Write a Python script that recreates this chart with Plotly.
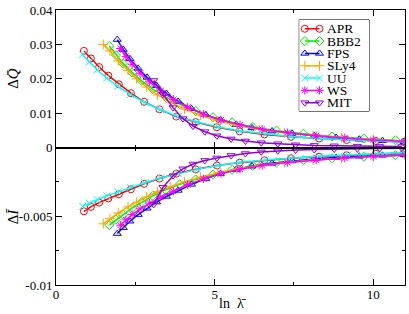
import plotly.graph_objects as go

# ---------------- data ----------------
names = ["APR", "BBB2", "FPS", "SLy4", "UU", "WS", "MIT"]
colors = ["#ff0000", "#00ee00", "#0000ff", "#ffa500", "#00ffff", "#ff00ff", "#9400d3"]
symbols = ["circle-open", "diamond-open", "triangle-up-open", "cross-thin-open",
           "x-thin-open", "asterisk-open", "triangle-down-open"]

apr_x = [0.88, 1.10, 1.36, 1.65, 1.98, 2.36, 2.78, 3.26, 3.79, 4.40, 5.07, 5.79, 6.57, 7.41, 8.29, 9.16, 10.08, 10.97]
apr_q = [0.0281, 0.0259, 0.0234, 0.0209, 0.0184, 0.0158, 0.0133, 0.0111, 0.0090, 0.0074, 0.0059, 0.0047, 0.0038, 0.0031, 0.0026, 0.0022, 0.0019, 0.0016]
apr_i = [-0.00464, -0.00432, -0.00401, -0.00370, -0.00340, -0.00304, -0.00264, -0.00226, -0.00190, -0.00159, -0.00131, -0.00110, -0.00093, -0.00078, -0.00067, -0.00057, -0.00046, -0.00038]

bbb2_x = [1.68, 1.89, 2.12, 2.40, 2.70, 3.05, 3.45, 3.90, 4.40, 4.95, 5.55, 6.20, 6.95, 7.80, 8.70, 9.70, 10.70]
bbb2_q = [0.0295, 0.0269, 0.0244, 0.0218, 0.0194, 0.0170, 0.0147, 0.0126, 0.0106, 0.0088, 0.0073, 0.0060, 0.0049, 0.0040, 0.0032, 0.0026, 0.0021]
bbb2_i = [-0.00564, -0.00525, -0.00488, -0.00440, -0.00398, -0.00352, -0.00308, -0.00268, -0.00232, -0.00196, -0.00162, -0.00133, -0.00110, -0.00092, -0.00078, -0.00066, -0.00056]

fps_x = [1.93, 2.12, 2.33, 2.59, 2.87, 3.17, 3.48, 3.85, 4.27, 4.72, 5.18, 5.68, 6.18, 6.81, 7.44, 8.14, 8.83, 9.56, 10.29, 10.97]
fps_q = [0.0314, 0.0285, 0.0258, 0.0230, 0.0204, 0.0180, 0.0157, 0.0134, 0.0113, 0.0095, 0.0080, 0.0067, 0.0057, 0.0048, 0.0041, 0.0034, 0.0029, 0.0024, 0.0020, 0.0017]
fps_i = [-0.00626, -0.00583, -0.00536, -0.00488, -0.00442, -0.00397, -0.00356, -0.00312, -0.00268, -0.00226, -0.00190, -0.00160, -0.00136, -0.00115, -0.00098, -0.00084, -0.00073, -0.00064, -0.00057, -0.00052]

sly4_x = [1.49, 1.70, 1.96, 2.27, 2.54, 2.85, 3.20, 3.60, 4.05, 4.55, 5.10, 5.70, 6.40, 7.20, 8.10, 9.00, 10.00, 11.00]
sly4_q = [0.0300, 0.0281, 0.0252, 0.0224, 0.0200, 0.0176, 0.0153, 0.0132, 0.0112, 0.0094, 0.0078, 0.0065, 0.0053, 0.0043, 0.0035, 0.0029, 0.0023, 0.0019]
sly4_i = [-0.00555, -0.00518, -0.00476, -0.00432, -0.00398, -0.00360, -0.00322, -0.00285, -0.00250, -0.00216, -0.00185, -0.00157, -0.00131, -0.00109, -0.00091, -0.00077, -0.00065, -0.00055]

uu_x = [0.84, 1.05, 1.30, 1.60, 1.95, 2.35, 2.80, 3.30, 3.85, 4.45, 5.10, 5.80, 6.60, 7.40, 8.30, 9.20, 10.10, 11.00]
uu_q = [0.0270, 0.0249, 0.0226, 0.0202, 0.0178, 0.0154, 0.0131, 0.0110, 0.0090, 0.0074, 0.0060, 0.0048, 0.0039, 0.0032, 0.0026, 0.0022, 0.0019, 0.0016]
uu_i = [-0.00428, -0.00405, -0.00380, -0.00352, -0.00323, -0.00292, -0.00256, -0.00221, -0.00189, -0.00159, -0.00131, -0.00108, -0.00090, -0.00076, -0.00064, -0.00054, -0.00045, -0.00037]

ws_x = [2.03, 2.20, 2.40, 2.65, 2.95, 3.30, 3.70, 4.15, 4.65, 5.20, 5.80, 6.50, 7.30, 8.20, 9.10, 10.00, 11.00]
ws_q = [0.0288, 0.0265, 0.0242, 0.0216, 0.0191, 0.0165, 0.0140, 0.0117, 0.0097, 0.0080, 0.0066, 0.0053, 0.0043, 0.0034, 0.0028, 0.0022, 0.0018]
ws_i = [-0.00565, -0.00526, -0.00487, -0.00446, -0.00404, -0.00361, -0.00318, -0.00270, -0.00228, -0.00190, -0.00158, -0.00131, -0.00109, -0.00091, -0.00077, -0.00066, -0.00056]

mit_x = [3.08, 3.37, 3.69, 4.00, 4.32, 4.69, 5.07, 5.52, 5.97, 6.47, 6.99, 7.55, 8.14, 8.77, 9.50, 10.20, 10.90]
mit_q = [0.0195, 0.0155, 0.0116, 0.0084, 0.0062, 0.0046, 0.0034, 0.0025, 0.0019, 0.0014, 0.0011, 0.0008, 0.0006, 0.0005, 0.0004, 0.0003, 0.0003]
mit_i = [-0.00414, -0.00290, -0.00205, -0.00155, -0.00120, -0.00094, -0.00076, -0.00058, -0.00044, -0.00032, -0.00024, -0.00018, -0.00015, -0.00012, -0.00010, -0.00008, -0.00006]

q_ticks = [0, 0.01, 0.02, 0.03, 0.04]
q_ticktext = ["0", "0.01", "0.02", "0.03", "0.04"]
i_ticks = [-0.01, -0.005, 0]
i_ticktext = ["-0.01", "-0.005", ""]
x_ticks = [0, 5, 10]
x_ticktext = ["0", "5", "10"]

series = [
    (apr_x, apr_q, apr_i),
    (bbb2_x, bbb2_q, bbb2_i),
    (fps_x, fps_q, fps_i),
    (sly4_x, sly4_q, sly4_i),
    (uu_x, uu_q, uu_i),
    (ws_x, ws_q, ws_i),
    (mit_x, mit_q, mit_i),
]

FONT = "Liberation Serif, Times New Roman, serif"

fig = go.Figure()
for name, col, sym, (xs, qs, is_) in zip(names, colors, symbols, series):
    mk = dict(symbol=sym, size=7, color=col, line=dict(color=col, width=1))
    fig.add_trace(go.Scatter(x=xs, y=qs, mode="lines+markers", name=name,
                             line=dict(color=col, width=1.5), marker=mk,
                             xaxis="x2", yaxis="y", showlegend=False))
    fig.add_trace(go.Scatter(x=xs, y=is_, mode="lines+markers", name=name,
                             line=dict(color=col, width=1.5), marker=mk,
                             xaxis="x", yaxis="y2", showlegend=False))

# custom grace-style legend (line with a marker at each end)
for k, (name, col, sym) in enumerate(zip(names, colors, symbols)):
    fig.add_trace(go.Scatter(x=[0.08, 0.29], y=[k, k], mode="lines+markers",
                             line=dict(color=col, width=1.5),
                             marker=dict(symbol=sym, size=7, color=col, line=dict(color=col, width=1)),
                             xaxis="x3", yaxis="y3", showlegend=False, hoverinfo="skip"))
    fig.add_annotation(x=0.39, y=k, xref="x3", yref="y3", text=name, showarrow=False,
                       xanchor="left", yanchor="middle", borderpad=0,
                       font=dict(family=FONT, size=13.5, color="black"))

axis_common = dict(showline=True, linecolor="black", linewidth=1, mirror="ticks",
                   ticks="inside", ticklen=6, tickwidth=1, tickcolor="black",
                   showgrid=False, zeroline=False, ticklabeloverflow="allow",
                   tickfont=dict(family=FONT, size=13, color="black"))

fig.update_layout(
    width=409, height=314,
    margin=dict(l=56, r=3, t=5, b=29),
    paper_bgcolor="white", plot_bgcolor="white",
    showlegend=False,
    xaxis=dict(domain=[0, 1], anchor="y2", range=[0, 11], tickvals=x_ticks, ticktext=x_ticktext,
               ticklabelstandoff=-3,
               minor=dict(dtick=2.5, tick0=0, ticks="inside", ticklen=3, tickcolor="black"),
               **axis_common),
    xaxis2=dict(domain=[0, 1], anchor="y", range=[0, 11], tickvals=x_ticks, showticklabels=False,
                minor=dict(dtick=2.5, tick0=0, ticks="inside", ticklen=3, tickcolor="black"),
                **axis_common),
    yaxis=dict(domain=[0.5, 1], anchor="x2", range=[0, 0.04], tickvals=q_ticks, ticktext=q_ticktext,
               **axis_common),
    yaxis2=dict(domain=[0, 0.5], anchor="x", range=[-0.01, 0], tickvals=i_ticks, ticktext=i_ticktext,
                minor=dict(dtick=0.0025, tick0=0, ticks="inside", ticklen=3, tickcolor="black"),
                **axis_common),
    xaxis3=dict(domain=[0.697, 0.897], anchor="y3", range=[0, 1], visible=False, fixedrange=True),
    yaxis3=dict(domain=[0.632, 0.964], anchor="x3", range=[6.69, -0.72], visible=False, fixedrange=True),
)

fig.add_shape(type="rect", xref="x3 domain", yref="y3 domain", x0=0, x1=1, y0=0, y1=1,
              line=dict(color="black", width=1), fillcolor="white", layer="below")

fig.add_annotation(xref="paper", yref="paper", x=-0.123, y=0.75, text="Δ<i>Q̄</i>",
                   textangle=-90, showarrow=False, xanchor="center", yanchor="middle",
                   font=dict(family=FONT, size=15, color="black"))
fig.add_annotation(xref="paper", yref="paper", x=-0.123, y=0.25, text="Δ<i>Ī</i>",
                   textangle=-90, showarrow=False, xanchor="center", yanchor="middle",
                   font=dict(family=FONT, size=15, color="black"))
fig.add_annotation(xref="paper", yref="paper", x=0.508, y=-0.069, text="ln  λ̄",
                   showarrow=False, xanchor="center", yanchor="middle", borderpad=0,
                   font=dict(family=FONT, size=14, color="black"))

fig.write_html("out.html", config={"displayModeBar": False},
               post_script="document.body.style.margin='0';document.body.style.padding='0';")
